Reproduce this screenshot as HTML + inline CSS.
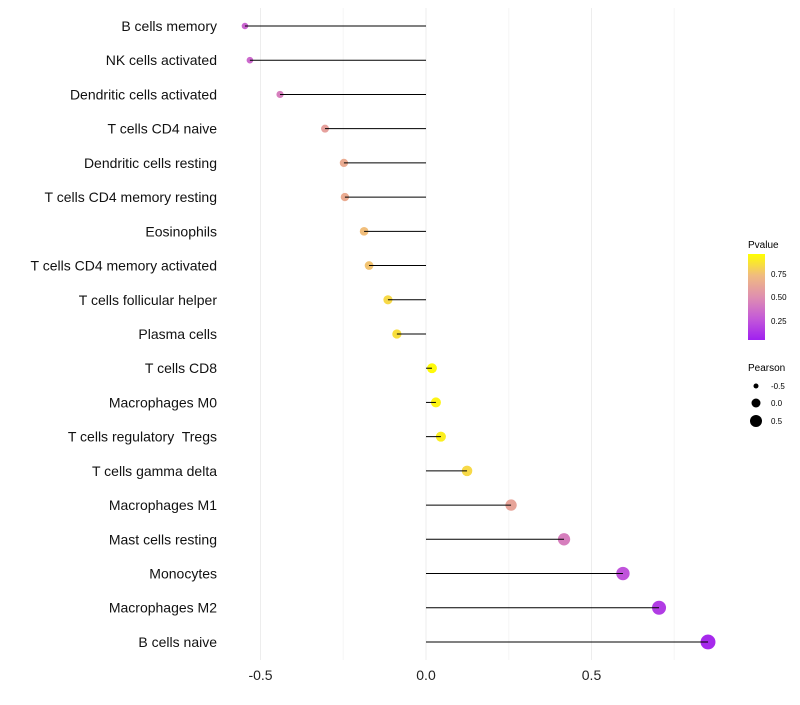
<!DOCTYPE html>
<html><head><meta charset="utf-8"><style>
body{margin:0;background:#fff;font-family:"Liberation Sans",sans-serif}
text{white-space:pre}
</style></head><body>
<svg id="c" width="800" height="700" xmlns="http://www.w3.org/2000/svg">
<defs><linearGradient id="pg" x1="0" y1="1" x2="0" y2="0">
<stop offset="0" stop-color="#a020f0"/><stop offset="0.25" stop-color="#c45ad8"/><stop offset="0.5" stop-color="#df8fb0"/><stop offset="0.75" stop-color="#f0bb80"/><stop offset="1" stop-color="#ffff00"/></linearGradient></defs>
<g id="grid"></g><g id="dots"></g><g id="marks"></g><g id="labels"></g>
<g>
<text x="748" y="248" font-size="10">Pvalue</text>
<rect x="748" y="254" width="17" height="86" fill="url(#pg)"/>
<text x="771" y="277" font-size="8">0.75</text>
<text x="771" y="300" font-size="8">0.50</text>
<text x="771" y="324" font-size="8">0.25</text>
<text x="748" y="371" font-size="10">Pearson</text>
<circle cx="756" cy="386" r="2.5"/>
<circle cx="756" cy="403" r="4.5"/>
<circle cx="756" cy="421" r="6"/>
<text x="771" y="389" font-size="8">-0.5</text>
<text x="771" y="406" font-size="8">0.0</text>
<text x="771" y="424" font-size="8">0.5</text>
</g>
</svg>
<script>
const cells=["B cells memory","NK cells activated","Dendritic cells activated","T cells CD4 naive","Dendritic cells resting","T cells CD4 memory resting","Eosinophils","T cells CD4 memory activated","T cells follicular helper","Plasma cells","T cells CD8","Macrophages M0","T cells regulatory  Tregs","T cells gamma delta","Macrophages M1","Mast cells resting","Monocytes","Macrophages M2","B cells naive"];
const pearson=[-0.547,-0.532,-0.441,-0.305,-0.248,-0.245,-0.187,-0.172,-0.115,-0.088,0.018,0.030,0.045,0.124,0.257,0.417,0.595,0.704,0.852];
const pvalue=[0.3,0.32,0.42,0.6,0.66,0.66,0.76,0.78,0.86,0.88,0.98,0.96,0.94,0.86,0.62,0.42,0.22,0.12,0.04];
const ticks=[-0.5,0,0.5];
const NS="http://www.w3.org/2000/svg";
const x=v=>426+v*331;
const y=i=>26+i*34.22;
const stops=[[160,32,240],[196,90,216],[223,143,176],[240,187,128],[255,255,0]];
function col(p){p=Math.max(0,Math.min(1,p));const t=p*4,i=Math.min(3,Math.floor(t)),f=t-i;const a=stops[i],b=stops[i+1];return `rgb(${a.map((c,k)=>Math.round(c+(b[k]-c)*f)).join(',')})`;}
function mk(tag,attrs,parent){const e=document.createElementNS(NS,tag);for(const k in attrs)e.setAttribute(k,attrs[k]);document.getElementById(parent).appendChild(e);return e;}
[-0.5,-0.25,0,0.25,0.5,0.75].forEach(v=>{const l=mk('line',{x1:x(v),x2:x(v),y1:8,y2:660,stroke:ticks.includes(v)?'#ededed':'#f6f6f6','stroke-width':1},'grid');

});
ticks.forEach(v=>{const t=mk('text',{x:x(v),y:680,'font-size':14,'text-anchor':'middle',fill:'#222'},'labels');t.textContent=v===0?'0.0':String(v);

});
cells.forEach((c,i)=>{
const t=mk('text',{x:217,y:y(i)+5,'font-size':14,'text-anchor':'end',fill:'#111'},'labels');t.textContent=c;


const l=mk('line',{x1:x(0),x2:x(pearson[i]),y1:y(i),y2:y(i),stroke:'#000','stroke-width':1},'marks');


const r=Math.max(1.8,4.9+3.0*pearson[i]);
const d=mk('circle',{cx:x(pearson[i]),cy:y(i),r:r,fill:col(pvalue[i])},'dots');


});
</script>
</body></html>
